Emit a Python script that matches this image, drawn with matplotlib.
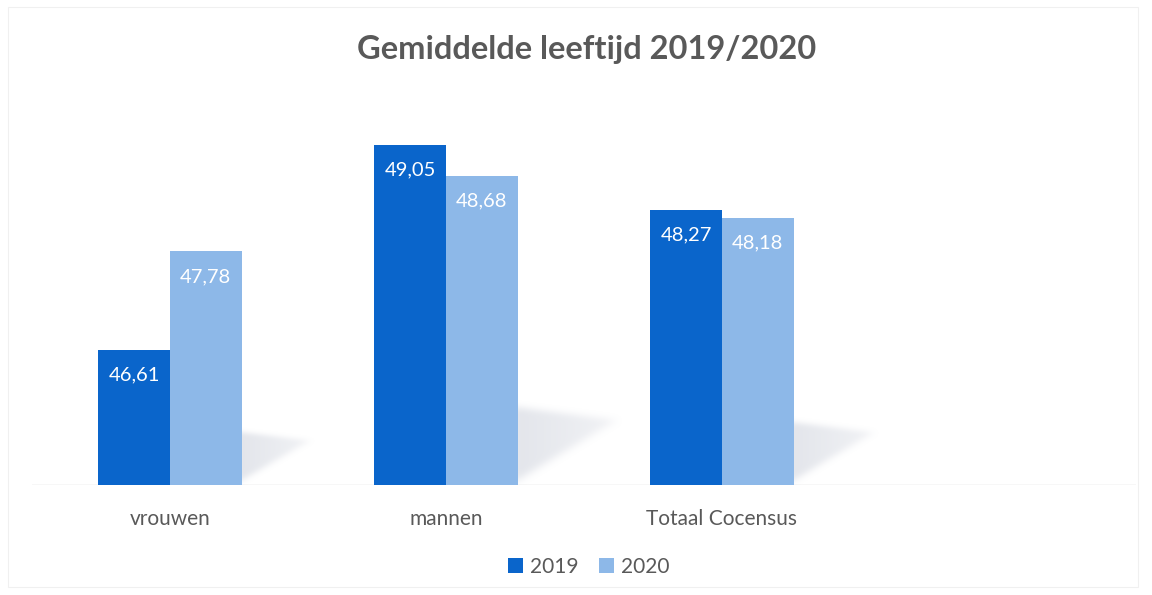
import matplotlib.pyplot as plt
from matplotlib.patches import Rectangle
from matplotlib.path import Path
import numpy as np

plt.rcParams['font.family'] = ['Lato', 'DejaVu Sans']

categorieen = ['vrouwen', 'mannen', 'Totaal Cocensus', '']
jaren = ['2019', '2020']
waarden_2019 = [46.61, 49.05, 48.27]
waarden_2020 = [47.78, 48.68, 48.18]

kleur_2019 = '#0A65CB'
kleur_2020 = '#8DB8E8'
tekst_grijs = '#595959'
basis = 45.0


def box_blur(a, r):
    # eenvoudige vervaging in beide richtingen
    k = np.ones(2 * r + 1) / (2 * r + 1)
    a = np.apply_along_axis(lambda m: np.convolve(m, k, mode='same'), 0, a)
    a = np.apply_along_axis(lambda m: np.convolve(m, k, mode='same'), 1, a)
    return a


fig = plt.figure(figsize=(11.52, 5.95), dpi=100)
ax = fig.add_axes([32 / 1152, 1 - 485 / 595, (1136 - 32) / 1152, (485 - 90) / 595])

x = np.arange(len(waarden_2019))
breedte = 0.26

# zachte schaduw achter elke groep
for xi, a, b in zip(x, waarden_2019, waarden_2020):
    h = max(a, b) - basis
    x0 = xi + breedte
    pad = 0.12
    x1, y1 = x0 + 0.088 * h + pad, basis + 0.23 * h + pad
    gx = np.linspace(x0 - pad, x1, 240)
    gy = np.linspace(basis, y1, 200)
    XX, YY = np.meshgrid(gx, gy)
    vorm = Path([(x0 - 0.03, basis), (x0 - 0.03, basis + 0.23 * h),
                 (x0 + 0.088 * h, basis + 0.19 * h), (x0 - 0.03, basis)])
    mask = vorm.contains_points(np.c_[XX.ravel(), YY.ravel()]).reshape(XX.shape).astype(float)
    mask = box_blur(box_blur(box_blur(mask, 7), 7), 7)
    # naar de punt toe wat lichter
    fade = np.clip(1 - 0.5 * (XX - x0) / (0.088 * h), 0.3, 1)
    rgba = np.zeros(mask.shape + (4,))
    rgba[..., :3] = np.array([0.66, 0.69, 0.76])
    rgba[..., 3] = mask * fade * 0.32
    ax.imshow(rgba, extent=(gx[0], gx[-1], gy[0], gy[-1]), origin='lower',
              aspect='auto', interpolation='bilinear', zorder=1)

b1 = ax.bar(x - breedte / 2, np.array(waarden_2019) - basis, breedte, bottom=basis,
            color=kleur_2019, label=jaren[0], zorder=2)
b2 = ax.bar(x + breedte / 2, np.array(waarden_2020) - basis, breedte, bottom=basis,
            color=kleur_2020, label=jaren[1], zorder=2)

for bars, vals in ((b1, waarden_2019), (b2, waarden_2020)):
    for r, v in zip(bars, vals):
        ax.annotate(f'{v:.2f}'.replace('.', ','),
                    (r.get_x() + r.get_width() / 2, v),
                    xytext=(0, -25), textcoords='offset pixels',
                    ha='center', va='center', color='white', fontsize=14.5, zorder=3)

ax.set_xlim(-0.5, 3.5)
ax.set_ylim(basis, basis + (485 - 90) / 84)
ax.axhline(basis, color='#d9d9d9', lw=1, zorder=1)
ax.set_xticks(range(len(categorieen)))
ax.set_xticklabels(categorieen, fontsize=15, color=tekst_grijs)
ax.tick_params(axis='x', length=0, pad=17)
ax.set_yticks([])
for s in ax.spines.values():
    s.set_visible(False)

fig.text(587 / 1152, 1 - 50 / 595, 'Gemiddelde leeftijd 2019/2020', ha='center', va='center',
         fontsize=23.5, fontweight='bold', color=tekst_grijs)

fig.legend(handles=[b1, b2], loc='center', bbox_to_anchor=(589 / 1152, 1 - 567 / 595),
           ncol=2, frameon=False, fontsize=15, handlelength=0.7, handleheight=0.7,
           handletextpad=0.35, columnspacing=1.0, labelcolor=tekst_grijs)

fig.patches.append(Rectangle((8 / 1152, 8 / 595), 1130 / 1152, 580 / 595, transform=fig.transFigure,
                             fill=False, edgecolor='#f0f0f0', lw=0.8))

fig.savefig('out.png', dpi=100)
